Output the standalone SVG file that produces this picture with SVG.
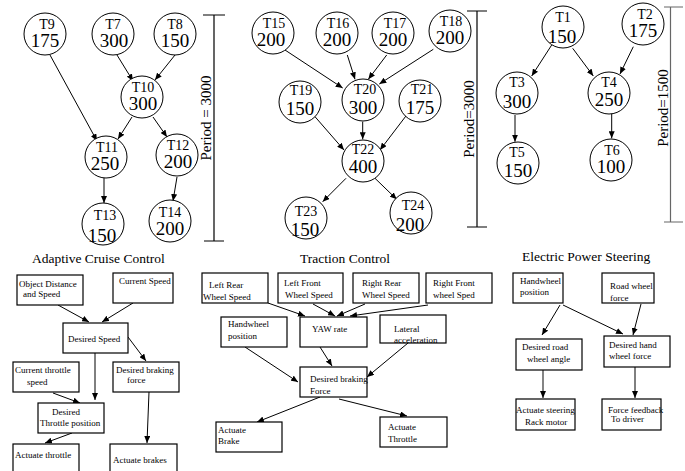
<svg xmlns="http://www.w3.org/2000/svg" width="685" height="471" viewBox="0 0 685 471">
<defs>
<style>
.c{fill:#fff;stroke:#000;stroke-width:1}
.tl{font-family:"Liberation Serif",serif;font-size:14px;text-anchor:middle;fill:#000}
.tn{font-family:"Liberation Serif",serif;font-size:19px;text-anchor:middle;fill:#000}
.pd{font-family:"Liberation Serif",serif;font-size:15px;text-anchor:middle;fill:#000}
.ti{font-family:"Liberation Serif",serif;font-size:13.5px;fill:#000}
.b{fill:#fff;stroke:#000;stroke-width:1.2}
.bt{font-family:"Liberation Serif",serif;font-size:9px;fill:#000}
.e{stroke:#000;stroke-width:1;fill:none;marker-end:url(#ah)}
.eg{stroke:#666;stroke-width:1.6;fill:none;marker-end:url(#ah)}
.bar{stroke:#000;stroke-width:1.2;fill:none}
</style>
<marker id="ah" markerUnits="userSpaceOnUse" markerWidth="8" markerHeight="6" refX="7" refY="3" orient="auto">
<path d="M0,0 L7,3 L0,6 z" fill="#000"/>
</marker>
</defs>

<g id="connectors">
<line class="e" x1="50" y1="55" x2="97" y2="141"/>
<line class="e" x1="117" y1="55" x2="133" y2="81"/>
<line class="e" x1="175" y1="55" x2="155" y2="80"/>
<line class="e" x1="132" y1="117" x2="118" y2="139"/>
<line class="e" x1="153" y1="117" x2="167" y2="137"/>
<line class="e" x1="104" y1="178" x2="104" y2="203"/>
<line class="e" x1="177" y1="177" x2="173" y2="201"/>

<line class="e" x1="285" y1="50" x2="342.7" y2="88"/>
<line class="e" x1="347.3" y1="55" x2="355" y2="79.3"/>
<line class="e" x1="386.7" y1="55" x2="368.3" y2="79.3"/>
<line class="e" x1="433.3" y1="49.3" x2="379.3" y2="84"/>
<line class="e" x1="315" y1="116.7" x2="344" y2="150"/>
<line class="e" x1="362.7" y1="121.7" x2="362.7" y2="139.3"/>
<line class="e" x1="406.7" y1="115" x2="380" y2="150"/>
<line class="e" x1="346" y1="178.3" x2="322.7" y2="201.7"/>
<line class="e" x1="375" y1="178.3" x2="396.7" y2="199.3"/>

<line class="e" x1="551.7" y1="45" x2="531.7" y2="76"/>
<line class="e" x1="572.7" y1="48.3" x2="593.3" y2="76"/>
<line class="e" x1="633.3" y1="46.7" x2="620" y2="74"/>
<line class="e" x1="515" y1="115" x2="515" y2="141.7"/>
<line class="e" x1="611.7" y1="111.7" x2="611.7" y2="138.3"/>

<line class="e" x1="58" y1="305" x2="89" y2="322"/>
<line class="e" x1="133" y1="303" x2="102" y2="322"/>
<line class="e" x1="128" y1="337" x2="146" y2="361"/>
<line class="e" x1="95" y1="353" x2="95" y2="400"/>
<line class="e" x1="53" y1="393" x2="80" y2="403"/>
<line class="e" x1="149" y1="392" x2="147" y2="443"/>
<line class="e" x1="72" y1="433" x2="45" y2="443"/>

<line class="e" x1="268" y1="303" x2="305" y2="316"/>
<line class="e" x1="313" y1="304" x2="335" y2="316"/>
<line class="e" x1="365" y1="304" x2="337" y2="316"/>
<line class="e" x1="428" y1="305" x2="350" y2="316"/>
<line class="e" x1="245" y1="347" x2="298" y2="382"/>
<line class="e" x1="320" y1="347" x2="332" y2="366"/>
<line class="e" x1="408" y1="343" x2="367" y2="377"/>
<line class="e" x1="320" y1="397" x2="257" y2="422"/>
<line class="e" x1="339" y1="399" x2="407" y2="416"/>

<line class="e" x1="560" y1="305" x2="542" y2="335"/>
<line class="e" x1="563" y1="305" x2="623" y2="334"/>
<line class="e" x1="641" y1="304" x2="633" y2="335"/>
<line class="eg" x1="543" y1="370" x2="543" y2="398"/>
<line class="e" x1="635" y1="367" x2="635" y2="398"/>
</g>

<g id="period-acc">
<path class="bar" d="M214,15 V241 M203,15 H225 M204,241 H224"/>
<text class="pd" transform="translate(211,118) rotate(-90)">Period = 3000</text>
</g>
<g id="period-tc">
<path class="bar" d="M477,11 V227 M467,11 H487 M467,227 H487"/>
<text class="pd" transform="translate(474,119) rotate(-90)">Period=3000</text>
</g>
<g id="period-eps">
<path class="bar" style="stroke:#666" d="M670.5,7 V222 M664,7 H683 M664,222 H683"/>
<text class="pd" transform="translate(668,108) rotate(-90)">Period=1500</text>
</g>

<g id="T9"><circle class="c" cx="45" cy="34" r="21"/><text class="tl" x="47" y="28.5">T9</text><text class="tn" x="45" y="47.3">175</text></g>
<g id="T7"><circle class="c" cx="113" cy="34" r="21"/><text class="tl" x="113" y="28.5">T7</text><text class="tn" x="114" y="47.3">300</text></g>
<g id="T8"><circle class="c" cx="175" cy="34" r="21"/><text class="tl" x="175" y="28.5">T8</text><text class="tn" x="175" y="47.3">150</text></g>
<g id="T10"><circle class="c" cx="142" cy="97" r="21"/><text class="tl" x="143" y="91.5">T10</text><text class="tn" x="143" y="110.3">300</text></g>
<g id="T11"><circle class="c" cx="106" cy="157" r="21"/><text class="tl" x="107" y="151.5">T11</text><text class="tn" x="105" y="170.3">250</text></g>
<g id="T12"><circle class="c" cx="177" cy="155" r="21"/><text class="tl" x="178" y="149.5">T12</text><text class="tn" x="178" y="168.3">200</text></g>
<g id="T13"><circle class="c" cx="103" cy="224" r="21"/><text class="tl" x="105" y="220">T13</text><text class="tn" x="102" y="242">150</text></g>
<g id="T14"><circle class="c" cx="170" cy="221" r="21"/><text class="tl" x="170" y="216.5">T14</text><text class="tn" x="170" y="235">200</text></g>

<g id="T15"><circle class="c" cx="273" cy="33" r="21"/><text class="tl" x="274" y="27.5">T15</text><text class="tn" x="271" y="46.3">200</text></g>
<g id="T16"><circle class="c" cx="337" cy="33" r="21"/><text class="tl" x="338" y="27.5">T16</text><text class="tn" x="337" y="46.3">200</text></g>
<g id="T17"><circle class="c" cx="393" cy="33" r="21"/><text class="tl" x="395" y="27.5">T17</text><text class="tn" x="393" y="46.3">200</text></g>
<g id="T18"><circle class="c" cx="450" cy="31" r="21"/><text class="tl" x="451" y="25.5">T18</text><text class="tn" x="450" y="44.3">200</text></g>
<g id="T19"><circle class="c" cx="300" cy="102" r="21"/><text class="tl" x="301" y="95">T19</text><text class="tn" x="300" y="115">150</text></g>
<g id="T20"><circle class="c" cx="363" cy="100" r="21"/><text class="tl" x="365" y="94">T20</text><text class="tn" x="363" y="114">300</text></g>
<g id="T21"><circle class="c" cx="420" cy="101" r="21"/><text class="tl" x="422" y="94">T21</text><text class="tn" x="420" y="113.5">175</text></g>
<g id="T22"><circle class="c" cx="363" cy="161" r="21"/><text class="tl" x="363" y="154">T22</text><text class="tn" x="363" y="173">400</text></g>
<g id="T23"><circle class="c" cx="306" cy="218" r="21"/><text class="tl" x="306" y="216">T23</text><text class="tn" x="305" y="236">150</text></g>
<g id="T24"><circle class="c" cx="411" cy="213" r="21"/><text class="tl" x="413" y="210">T24</text><text class="tn" x="410" y="231">200</text></g>

<g id="T1"><circle class="c" cx="563" cy="27" r="21"/><text class="tl" x="563" y="22">T1</text><text class="tn" x="562" y="43">150</text></g>
<g id="T2"><circle class="c" cx="643" cy="24" r="21"/><text class="tl" x="645" y="18.5">T2</text><text class="tn" x="643" y="37.3">175</text></g>
<g id="T3"><circle class="c" cx="517" cy="93" r="21"/><text class="tl" x="517" y="87">T3</text><text class="tn" x="517" y="108">300</text></g>
<g id="T4"><circle class="c" cx="609" cy="93" r="21"/><text class="tl" x="609" y="87">T4</text><text class="tn" x="609" y="106.3">250</text></g>
<g id="T5"><circle class="c" cx="518" cy="163" r="21"/><text class="tl" x="517" y="156.5">T5</text><text class="tn" x="518" y="176.5">150</text></g>
<g id="T6"><circle class="c" cx="611" cy="160" r="21"/><text class="tl" x="612" y="154.5">T6</text><text class="tn" x="611" y="173.3">100</text></g>

<text class="ti" x="32" y="263">Adaptive Cruise Control</text>
<text class="ti" x="300" y="263">Traction Control</text>
<text class="ti" x="522" y="261">Electric Power Steering</text>

<g id="acc-object"><rect class="b" x="17" y="275" width="66" height="30"/><text class="bt" x="19" y="287">Object Distance</text><text class="bt" x="23" y="297">and Speed</text></g>
<g id="acc-current-speed"><rect class="b" x="113" y="273" width="60" height="30"/><text class="bt" x="119" y="284">Current Speed</text></g>
<g id="acc-desired-speed"><rect class="b" x="63" y="323" width="65" height="30"/><text class="bt" x="68" y="342">Desired Speed</text></g>
<g id="acc-throttle-speed"><rect class="b" x="13" y="362" width="66" height="30"/><text class="bt" x="15" y="373">Current throttle</text><text class="bt" x="27" y="385">speed</text></g>
<g id="acc-braking"><rect class="b" x="113" y="362" width="66" height="30"/><text class="bt" x="116" y="373">Desired braking</text><text class="bt" x="127" y="383">force</text></g>
<g id="acc-throttle-pos"><rect class="b" x="38" y="403" width="66" height="30"/><text class="bt" x="52" y="415">Desired</text><text class="bt" x="40" y="426">Throttle position</text></g>
<g id="acc-act-throttle"><rect class="b" x="13" y="444" width="66" height="32"/><text class="bt" x="15" y="458">Actuate throttle</text></g>
<g id="acc-act-brakes"><rect class="b" x="110" y="444" width="67" height="32"/><text class="bt" x="113" y="463">Actuate brakes</text></g>

<g id="tc-lr"><rect class="b" x="202" y="273" width="66" height="30"/><text class="bt" x="209" y="288">Left Rear</text><text class="bt" x="203" y="300">Wheel Speed</text></g>
<g id="tc-lf"><rect class="b" x="278" y="273" width="65" height="30"/><text class="bt" x="284" y="286">Left Front</text><text class="bt" x="285" y="298">Wheel Speed</text></g>
<g id="tc-rr"><rect class="b" x="353" y="273" width="66" height="30"/><text class="bt" x="362" y="286">Right Rear</text><text class="bt" x="362" y="298">Wheel Speed</text></g>
<g id="tc-rf"><rect class="b" x="426" y="273" width="66" height="30"/><text class="bt" x="433" y="286">Right Front</text><text class="bt" x="433" y="298">wheel Sped</text></g>
<g id="tc-hand"><rect class="b" x="221" y="317" width="66" height="30"/><text class="bt" x="228" y="327">Handwheel</text><text class="bt" x="228" y="339">position</text></g>
<g id="tc-yaw"><rect class="b" x="300" y="317" width="67" height="30"/><text class="bt" x="312" y="332">YAW rate</text></g>
<g id="tc-lat"><rect class="b" x="380" y="315" width="66" height="28"/><text class="bt" x="394" y="332">Lateral</text><text class="bt" x="394" y="343">acceleration</text></g>
<g id="tc-braking"><rect class="b" x="300" y="367" width="67" height="30"/><text class="bt" x="310" y="382">Desired braking</text><text class="bt" x="310" y="394">Force</text></g>
<g id="tc-brake"><rect class="b" x="216" y="422" width="66" height="30"/><text class="bt" x="218" y="433">Actuate</text><text class="bt" x="218" y="444">Brake</text></g>
<g id="tc-throttle"><rect class="b" x="380" y="417" width="67" height="30"/><text class="bt" x="388" y="430">Actuate</text><text class="bt" x="388" y="442">Throttle</text></g>

<g id="eps-hand"><rect class="b" x="513" y="273" width="50" height="30"/><text class="bt" x="520" y="284">Handwheel</text><text class="bt" x="520" y="295">position</text></g>
<g id="eps-road"><rect class="b" x="602" y="273" width="52" height="30"/><text class="bt" x="610" y="289">Road wheel</text><text class="bt" x="610" y="301">force</text></g>
<g id="eps-angle"><rect class="b" x="516" y="339" width="66" height="31"/><text class="bt" x="522" y="350">Desired road</text><text class="bt" x="527" y="362">wheel angle</text></g>
<g id="eps-handforce"><rect class="b" x="604" y="336" width="66" height="31"/><text class="bt" x="609" y="348">Desired hand</text><text class="bt" x="609" y="359">wheel force</text></g>
<g id="eps-rack"><rect class="b" x="516" y="399" width="59" height="31"/><text class="bt" x="516" y="413">Actuate steering</text><text class="bt" x="525" y="425">Rack motor</text></g>
<g id="eps-feedback"><rect class="b" x="602" y="399" width="59" height="31"/><text class="bt" x="608" y="413">Force feedback</text><text class="bt" x="611" y="422">To driver</text></g>
</svg>
